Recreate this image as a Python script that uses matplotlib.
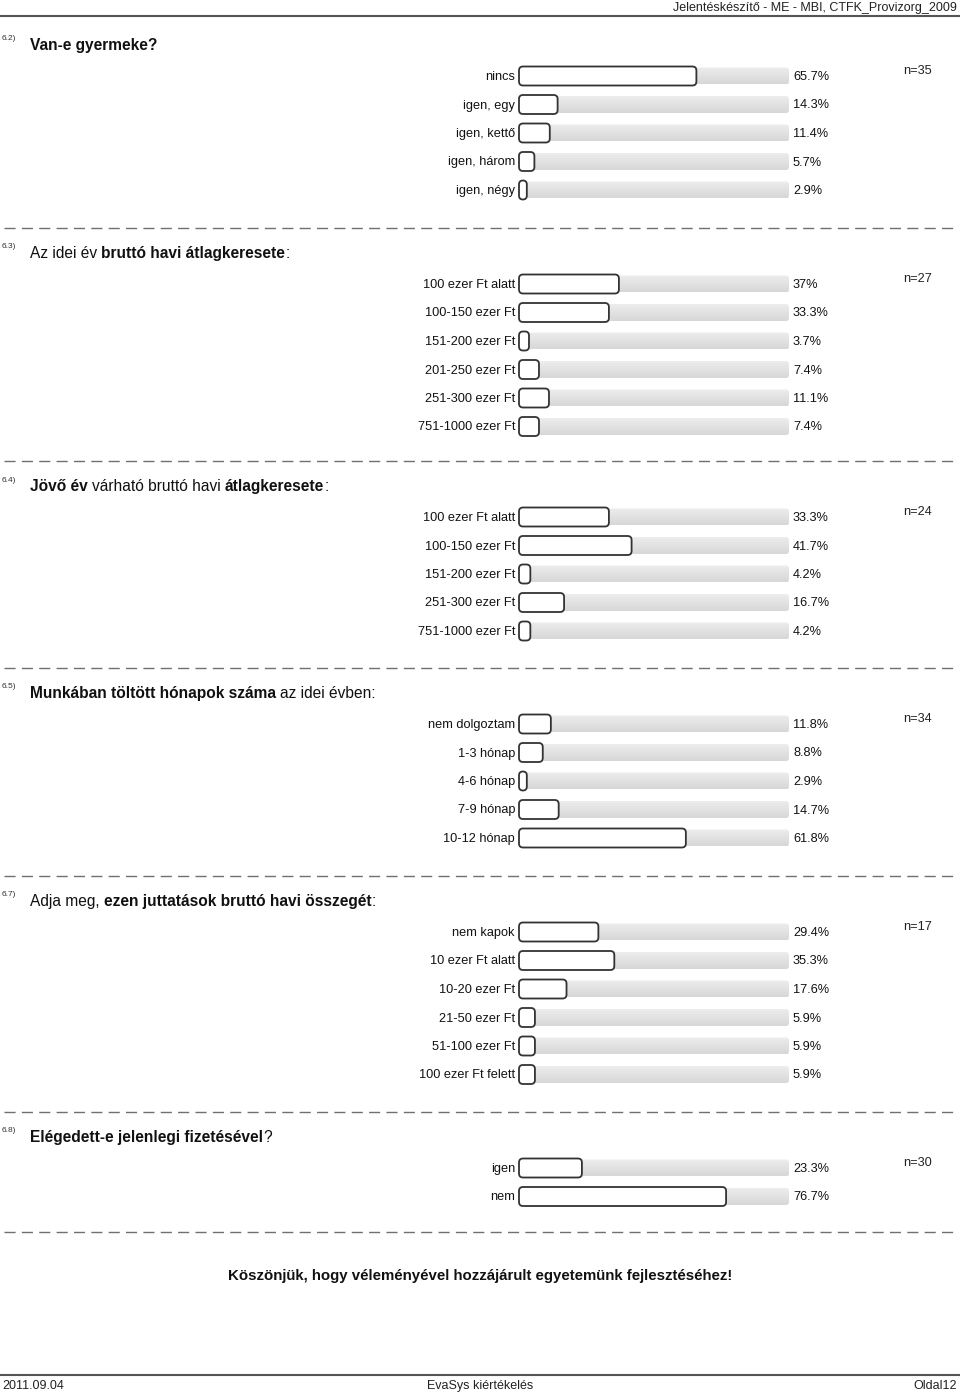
import numpy as np
import matplotlib.pyplot as plt
from matplotlib.colors import LinearSegmentedColormap
from matplotlib.patches import FancyBboxPatch

plt.rcParams['font.family'] = ['Liberation Sans', 'DejaVu Sans']

# --- adatok (data) ---
q62_labels = ["nincs", "igen, egy", "igen, kettő", "igen, három", "igen, négy"]
q62_values = [65.7, 14.3, 11.4, 5.7, 2.9]
q62_n = 35

q63_labels = ["100 ezer Ft alatt", "100-150 ezer Ft", "151-200 ezer Ft",
              "201-250 ezer Ft", "251-300 ezer Ft", "751-1000 ezer Ft"]
q63_values = [37, 33.3, 3.7, 7.4, 11.1, 7.4]
q63_n = 27

q64_labels = ["100 ezer Ft alatt", "100-150 ezer Ft", "151-200 ezer Ft",
              "251-300 ezer Ft", "751-1000 ezer Ft"]
q64_values = [33.3, 41.7, 4.2, 16.7, 4.2]
q64_n = 24

q65_labels = ["nem dolgoztam", "1-3 hónap", "4-6 hónap", "7-9 hónap", "10-12 hónap"]
q65_values = [11.8, 8.8, 2.9, 14.7, 61.8]
q65_n = 34

q67_labels = ["nem kapok", "10 ezer Ft alatt", "10-20 ezer Ft", "21-50 ezer Ft",
              "51-100 ezer Ft", "100 ezer Ft felett"]
q67_values = [29.4, 35.3, 17.6, 5.9, 5.9, 5.9]
q67_n = 17

q68_labels = ["igen", "nem"]
q68_values = [23.3, 76.7]
q68_n = 30

# cimek: (szoveg, felkover)
q62_title = [("Van-e gyermeke?", True)]
q63_title = [("Az idei év", False), (" bruttó havi átlagkeresete", True), (":", False)]
q64_title = [("Jövő év", True), (" várható bruttó havi", False), (" átlagkeresete", True), (":", False)]
q65_title = [("Munkában töltött hónapok száma", True), (" az idei évben:", False)]
q67_title = [("Adja meg,", False), (" ezen juttatások bruttó havi összegét", True), (":", False)]
q68_title = [("Elégedett-e jelenlegi fizetésével", True), ("?", False)]

sections = [
    ("6.2)", q62_title, q62_labels, q62_values, q62_n),
    ("6.3)", q63_title, q63_labels, q63_values, q63_n),
    ("6.4)", q64_title, q64_labels, q64_values, q64_n),
    ("6.5)", q65_title, q65_labels, q65_values, q65_n),
    ("6.7)", q67_title, q67_labels, q67_values, q67_n),
    ("6.8)", q68_title, q68_labels, q68_values, q68_n),
]

# --- elrendezes (layout, pixel) ---
title_y = [44, 252, 485, 692, 900, 1136]
bar_x0, bar_w = 519, 270
row_step = 28.5
bar_h = 19

fig = plt.figure(figsize=(9.6, 13.95), dpi=100)
ax = fig.add_axes([0, 0, 1, 1])
ax.set_xlim(0, 960)
ax.set_ylim(1395, 0)
ax.axis('off')
renderer = fig.canvas.get_renderer()

grad = np.linspace(0, 1, 50).reshape(-1, 1)
gray_cmap = LinearSegmentedColormap.from_list('g', ['#ededed', '#d7d7d7'])


def rich_text(x, y, parts, size):
    # y = alapvonal (baseline)
    for s, bold in parts:
        w = 'bold' if bold else 'normal'
        if s.startswith(' '):
            a = ax.text(0, 0, "x x", fontsize=size, fontweight=w)
            b = ax.text(0, 0, "xx", fontsize=size, fontweight=w)
            x += a.get_window_extent(renderer).width - b.get_window_extent(renderer).width
            a.remove()
            b.remove()
        t = ax.text(x, y, s.strip(), fontsize=size, fontweight=w, va='baseline', ha='left',
                    color='#111111')
        x += t.get_window_extent(renderer).width


def dashed(y):
    ax.plot([4, 956], [y, y], color='#707070', lw=1, ls=(0, (8, 4.5)))


# fejlec
ax.text(957, 11, "Jelentéskészítő - ME - MBI, CTFK_Provizorg_2009", fontsize=9,
        ha='right', va='baseline', color='#222222')
ax.plot([0, 960], [16, 16], color='#555555', lw=1.5)

for i, (num, title, labels, values, n) in enumerate(sections):
    ty = title_y[i]
    if i > 0:
        dashed(ty - 24)
    ax.text(2, ty - 5, num, fontsize=6, ha='left', va='center', color='#333333')
    rich_text(30, ty + 6, title, 11.2)
    ax.text(903, ty + 27, f"n={n}", fontsize=9.2, ha='left', va='center', color='#222222')
    for j, (lab, v) in enumerate(zip(labels, values)):
        y = ty + 32 + j * row_step
        # szurke hatter savok
        track = FancyBboxPatch((bar_x0, y - 8.5), bar_w, 17,
                               boxstyle="round,pad=0,rounding_size=3",
                               facecolor='none', edgecolor='none')
        ax.add_patch(track)
        im = ax.imshow(grad, extent=(bar_x0, bar_x0 + bar_w, y + 8.5, y - 8.5),
                       cmap=gray_cmap, aspect='auto', zorder=1)
        im.set_clip_path(track)
        # feher savok
        w = v / 100 * bar_w
        bar = FancyBboxPatch((bar_x0, y - bar_h / 2), w, bar_h,
                             boxstyle=f"round,pad=0,rounding_size={min(4, w / 2)}",
                             facecolor='white', edgecolor='#333333', lw=1.3, zorder=2)
        ax.add_patch(bar)
        ax.text(bar_x0 - 4, y + 1, lab, fontsize=9.2, ha='right', va='center', color='#111111')
        ax.text(793, y + 1, f"{v:g}%", fontsize=9.2, ha='left', va='center', color='#111111')

dashed(1232)

ax.text(480, 1276, "Köszönjük, hogy véleményével hozzájárult egyetemünk fejlesztéséhez!",
        fontsize=10.8, fontweight='bold', ha='center', va='center', color='#111111')

# lablec
ax.plot([0, 960], [1375, 1375], color='#555555', lw=1.5)
ax.text(2, 1386, "2011.09.04", fontsize=9, ha='left', va='center', color='#222222')
ax.text(480, 1386, "EvaSys kiértékelés", fontsize=9, ha='center', va='center', color='#222222')
ax.text(957, 1386, "Oldal12", fontsize=9, ha='right', va='center', color='#222222')

ax.set_xlim(0, 960)
ax.set_ylim(1395, 0)
fig.savefig("out.png", dpi=100)
